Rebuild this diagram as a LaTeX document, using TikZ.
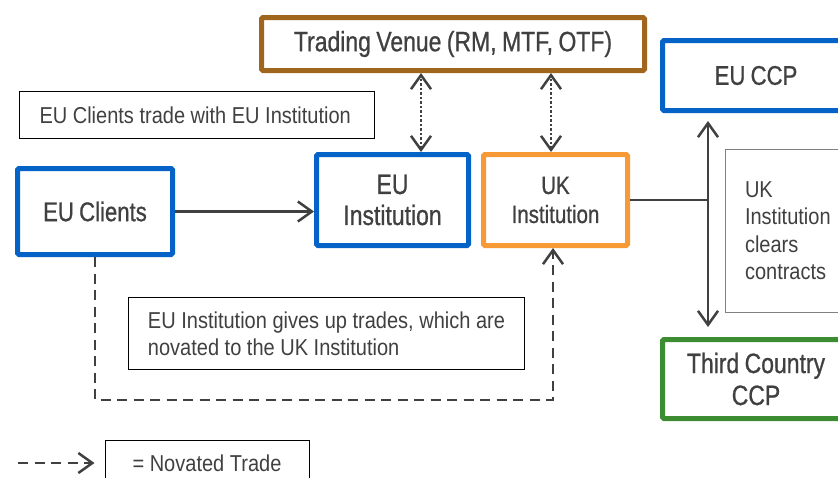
\documentclass[tikz,border=0pt]{standalone}
\usepackage{fontspec}
\setmainfont{Liberation Sans}[FakeStretch=0.87]
\newfontfamily\partyfont{Liberation Sans}[FakeStretch=0.82, WordSpace=0.85, FakeBold=0.8]
\usepackage{tikz}
\usetikzlibrary{positioning}
\usetikzlibrary{arrows.meta}
\definecolor{txtgray}{HTML}{404040}
\definecolor{eublue}{HTML}{0563C8}
\definecolor{ukorange}{HTML}{F79A36}
\definecolor{venuebrown}{HTML}{A0661E}
\definecolor{ccpgreen}{HTML}{3C8C32}
\tikzset{
    trade flow/.style={
            x=1pt,y=-1pt,
            every node/.style={text=txtgray},
            party/.style={draw, line width=5pt, rounded corners=1.5pt, align=flush center, inner sep=0pt, font=\partyfont\fontsize{27}{31}\selectfont},
            note/.style={draw, line width=1pt, align=flush left, inner ysep=0pt, inner xsep=20pt, font=\fontsize{23}{27}\selectfont},
            arrow/.style={-{Straight Barb[length=14pt,width=20pt,line width=2.5pt]}, line width=2.5pt, draw=txtgray},
            both arrow/.style={{Straight Barb[length=14pt,width=20pt,line width=2.5pt]}-{Straight Barb[length=14pt,width=20pt,line width=2.5pt]}, line width=2.5pt, draw=txtgray},
            novated/.style={arrow, dash pattern=on 10pt off 6.5pt},
            venue link/.style={both arrow, dash pattern=on 2.5pt off 2pt}
        }
    }

\begin{document}
\begin{tikzpicture}[trade flow]
    \useasboundingbox (0,0) rectangle (838,477);
    \clip (0,0) rectangle (838,477);

    % parties
    \node [party, draw=venuebrown, minimum width=383, minimum height=53, font=\partyfont\fontsize{28}{32}\selectfont] (venue) at (453,44) {Trading Venue (RM, MTF, OTF)};
    \node [party, draw=eublue, minimum width=187, minimum height=70] (euccp) at (756,75.5) {EU CCP};
    \node [party, draw=eublue, minimum width=155, minimum height=86] (clients) at (95,211.5) {EU Clients};
    \node [party, draw=eublue, minimum width=152, minimum height=91, font=\partyfont\fontsize{28}{31}\selectfont] (euinst) at (392.5,200) {EU\\Institution};
    \node [party, draw=ukorange, minimum width=144, minimum height=91, font=\partyfont\fontsize{25}{29}\selectfont] (ukinst) at (555.5,200) {UK\\Institution};
    \node [party, draw=ccpgreen, minimum width=187, minimum height=79, font=\partyfont\fontsize{28}{32}\selectfont] (thirdccp) at (756,379) {Third Country\\CCP};

    % notes
    \node [note, text width=315, minimum height=47] (tradenote) at (197,115) {EU Clients trade with EU Institution};
    \node [note, inner xsep=0pt, minimum width=396, minimum height=72] (giveupnote) at (326.5,333.5) {EU Institution gives up trades, which are\\novated to the UK Institution};
    \node [note, draw=gray, text width=100, minimum height=163, font=\fontsize{23}{27.5}\selectfont] (clearnote) at (795,230.5) {UK\\Institution\\clears\\contracts};
    \node [note, align=flush center, text width=164, minimum height=46] (legend) at (207,463) {= Novated Trade};

    % connectors
    \draw [arrow] (clients.east) -- (clients.east -| euinst.west);
    \draw [venue link] ([xshift=28.5pt]euinst.north) -- ([xshift=28.5pt]euinst.north |- venue.south);
    \draw [venue link] ([xshift=-4.5pt]ukinst.north) -- ([xshift=-4.5pt]ukinst.north |- venue.south);

    \coordinate (clearing) at (708,200);
    \draw [line width=2.5pt, draw=txtgray] (ukinst.east) -- (clearing);
    \draw [both arrow, shorten <=8pt, shorten >=10pt] ([xshift=-48pt]euccp.south) -- ([xshift=-48pt]euccp.south |- thirdccp.north);

    \coordinate (turn) at (95,400);
    \draw [novated] (clients.south) -- (turn) -| ([xshift=-2.5pt]ukinst.south);

    \coordinate (legstart) at (18,463);
    \draw [novated] (legstart) -- ([xshift=-10pt]legend.west);
\end{tikzpicture}
\end{document}
